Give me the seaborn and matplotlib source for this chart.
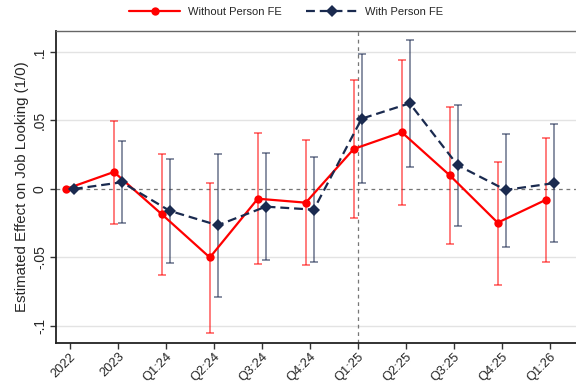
import matplotlib
matplotlib.use("Agg")
import matplotlib.pyplot as plt
import seaborn as sns
import pandas as pd
import numpy as np

periods = ["2022", "2023", "Q1:24", "Q2:24", "Q3:24", "Q4:24", "Q1:25", "Q2:25", "Q3:25", "Q4:25", "Q1:26"]

wo_est = [0.0, 0.0124, -0.0185, -0.0500, -0.0071, -0.0100, 0.0292, 0.0414, 0.0100, -0.0246, -0.0080]
wo_lo = [0.0, -0.0253, -0.0630, -0.1050, -0.0547, -0.0555, -0.0210, -0.0117, -0.0400, -0.0698, -0.0530]
wo_hi = [0.0, 0.0499, 0.0255, 0.0046, 0.0406, 0.0355, 0.0796, 0.0940, 0.0596, 0.0200, 0.0370]

w_est = [0.0, 0.0049, -0.0160, -0.0265, -0.0129, -0.0151, 0.0513, 0.0625, 0.0173, -0.0007, 0.0042]
w_lo = [0.0, -0.0246, -0.0540, -0.0790, -0.0520, -0.0535, 0.0044, 0.0158, -0.0272, -0.0420, -0.0390]
w_hi = [0.0, 0.0348, 0.0217, 0.0258, 0.0263, 0.0236, 0.0983, 0.1088, 0.0616, 0.0404, 0.0474]

yticks = [0.1, 0.05, 0.0, -0.05, -0.1]
ytick_labels = [".1", ".05", "0", "-.05", "-.1"]

sns.set_theme(style="white")
plt.rcParams["font.family"] = ["Liberation Sans", "DejaVu Sans"]

idx = np.arange(len(periods))
off = 0.083
df = pd.DataFrame({
    "x": np.concatenate([idx - off, idx + off]),
    "est": wo_est + w_est,
    "lo": wo_lo + w_lo,
    "hi": wo_hi + w_hi,
    "model": ["Without Person FE"] * len(periods) + ["With Person FE"] * len(periods),
})

fig = plt.figure(figsize=(5.76, 3.87), dpi=100)
ax = fig.add_axes([0.0972, 0.1137, 0.9028, 0.8063])

red = "#ff0000"
navy = "#1a2a4f"

ax.axhline(0, color="#777777", lw=0.9, ls=(0, (3, 3)), zorder=1)
ax.axvline(6, color="#777777", lw=0.9, ls=(0, (3, 3)), zorder=1)
for yv in [0.1, 0.05, -0.05, -0.1]:
    ax.axhline(yv, color="#e3e3e3", lw=1.0, zorder=0)

# error bars
for name, ecol in [("Without Person FE", (1.0, 0.0, 0.0, 0.6)),
                   ("With Person FE", (0.10, 0.16, 0.31, 0.6))]:
    sub = df[df.model == name].iloc[1:]
    ax.errorbar(sub.x, sub.est, yerr=[sub.est - sub.lo, sub.hi - sub.est],
                fmt="none", ecolor=ecol, elinewidth=1.2, capsize=3, capthick=1.2, zorder=2)

sns.lineplot(data=df, x="x", y="est", hue="model", style="model",
             hue_order=["Without Person FE", "With Person FE"],
             style_order=["Without Person FE", "With Person FE"],
             palette={"Without Person FE": red, "With Person FE": navy},
             markers={"Without Person FE": "o", "With Person FE": "D"},
             dashes={"Without Person FE": "", "With Person FE": (4, 2.2)},
             markersize=6, markeredgewidth=0, linewidth=1.6, ax=ax, zorder=3)

ax.set_xlim(-0.29, 10.55)
ax.set_ylim(-0.1124, 0.1153)
ax.set_xticks(idx)
ax.set_xticklabels(periods, rotation=45, ha="right", rotation_mode="anchor", fontsize=9.3)
ax.set_yticks(yticks)
ax.set_yticklabels(ytick_labels, rotation=90, va="center", fontsize=10)
ax.tick_params(axis="both", which="both", length=4, width=1, color="#333333", bottom=True, left=True, pad=2.5)
ax.tick_params(axis="x", pad=1.5)
ax.set_xlabel("")
ax.set_ylabel("Estimated Effect on Job Looking (1/0)", fontsize=10.8, labelpad=3)

for s in ["left", "bottom"]:
    ax.spines[s].set_color("#222222")
    ax.spines[s].set_linewidth(1.3)
ax.spines["top"].set_color("#666666")
ax.spines["top"].set_linewidth(1.0)
ax.spines["right"].set_visible(False)

handles, labels = ax.get_legend_handles_labels()
ax.get_legend().remove()
fig.legend(handles, labels, loc="center", bbox_to_anchor=(0.497, 1 - 12 / 387), ncol=2,
           frameon=False, fontsize=8, handlelength=4.6, columnspacing=2.2, handletextpad=0.7)

fig.savefig("out.png", dpi=100)
